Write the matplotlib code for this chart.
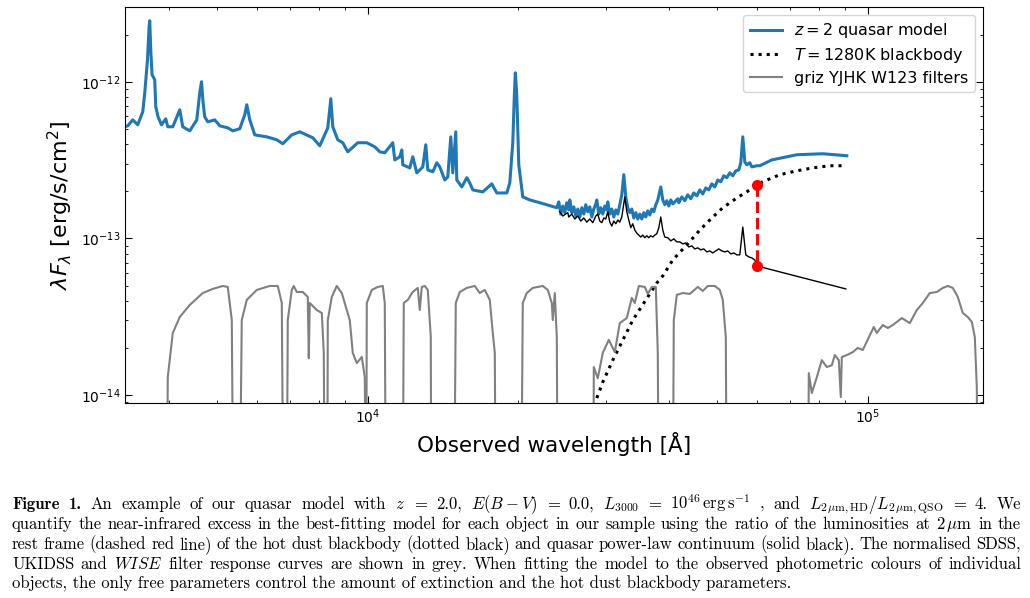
import numpy as np
import matplotlib
matplotlib.use("Agg")
import matplotlib.pyplot as plt

# z=2 quasar model (blue), flux in units of 1e-13 erg/s/cm^2
qso_wave = [3266, 3311, 3388, 3467, 3548, 3581, 3626, 3653, 3664, 3681, 3703, 3749, 3767, 3807, 3867,
            3944, 3981, 4074, 4207, 4265, 4406, 4550, 4613, 4650, 4685, 4720, 4786, 4944, 5058, 5248,
            5371, 5546, 5675, 5728, 5808, 5943, 6281, 6577, 6761, 7047, 7311, 7762, 8017, 8318, 8434,
            8512, 8709, 8912, 9120, 9549, 9955, 10328, 10568, 10814, 11220, 11324, 11588, 11696, 11749,
            12134, 12303, 12532, 12883, 13062, 13183, 13490, 13742, 13932, 14257, 14455, 14655, 14791,
            14996, 15066, 15418, 15777, 15996, 16218, 16982, 17702, 18113, 18967, 19231, 19498, 19640,
            19730, 19860, 20044, 20417, 21086, 22080,
            23878, 24099, 24321, 24546, 24774, 25003, 25235, 25351, 25587, 25823, 26061, 26302, 26546,
            26793, 27040, 27289, 27541, 27797, 28056, 28314, 28575, 28708, 28974, 29241, 29512, 29785,
            30062, 30198, 30479, 30762, 31046, 31332, 31622, 31915, 32212, 32508, 32809, 33112, 33419,
            33730, 34041, 34355, 34671, 34994, 35319, 35645, 35974, 36306, 36644, 36985, 37326, 37670,
            38017, 38547, 38903, 39264, 39628, 39995, 40364, 40737, 41686, 41879, 42463, 43053, 43650,
            44258, 44874, 45500, 46132, 46773, 47424, 48085, 48755, 49432, 50118, 50815, 51523, 52240,
            52966, 53702, 54449, 55208, 55717, 56233, 56754, 57279, 58076, 58617, 60000, 60813, 64272,
            72112, 81282, 90785]
qso_flux = [5.16, 5.23, 5.71, 5.31, 6.43, 8.51, 13.8, 22.5, 24.5, 16.0, 11.1, 10.3, 6.92, 5.97, 5.31,
            5.80, 5.16, 5.16, 6.62, 5.16, 4.86, 5.71, 8.51, 10.0, 7.34, 5.97, 5.55, 5.71, 5.23, 5.08,
            4.86, 5.01, 6.16, 7.13, 5.71, 4.58, 4.45, 4.26, 4.02, 4.58, 4.79, 4.39, 3.90, 5.08, 7.79,
            5.16, 4.26, 4.08, 3.57, 4.08, 4.08, 3.84, 3.57, 3.52, 4.08, 3.17, 3.32, 3.67, 2.95,
            2.82, 3.32, 2.62, 2.86, 3.96, 2.74, 2.66, 3.04, 2.86, 2.36, 2.47, 4.45, 2.62,
            4.79, 2.36, 2.13, 2.44, 2.26, 2.04, 1.98, 2.23, 1.95, 1.95, 2.26, 4.08, 8.26,
            11.4, 8.26, 2.95, 1.84, 1.76, 1.69,
            1.57, 1.71, 1.43, 1.61, 1.46, 1.69, 1.52, 1.76, 1.46, 1.59, 1.39, 1.54, 1.37,
            1.57, 1.43, 1.64, 1.48, 1.59, 1.37, 1.54, 1.66, 1.76, 1.43, 1.57, 1.43, 1.61,
            1.52, 1.71, 1.43, 1.54, 1.37, 1.52, 1.43, 1.64, 1.90, 2.55, 1.84, 1.57, 1.46,
            1.54, 1.35, 1.46, 1.33, 1.43, 1.33, 1.46, 1.37, 1.50, 1.41, 1.54, 1.48, 1.64,
            1.76, 2.13, 1.76, 1.64, 1.74, 1.61, 1.76, 1.66, 1.79, 1.69, 1.84, 1.74, 1.90,
            1.79, 1.95, 1.87, 2.04, 1.92, 2.10, 2.04, 2.23, 2.13, 2.36, 2.30, 2.51, 2.44,
            2.62, 2.51, 2.70, 2.74, 3.04, 4.45, 3.08, 2.95, 3.04, 2.86, 2.91, 2.91, 3.17,
            3.42, 3.47, 3.37]

# quasar power-law continuum + lines without hot dust (solid black)
pl_wave = [24210, 24546, 25118, 25235, 25587, 25942, 26302, 26668, 27040, 27416, 27797, 28183,
           28575, 28839, 29107, 29378, 29648, 29922, 30198, 30479, 30762, 31046, 31332, 31622,
           31915, 32212, 32659, 32962, 33266, 33573, 33884, 34198, 34514, 34834, 35155, 35480,
           35809, 36142, 36476, 36813, 37154, 37498, 37846, 38194, 38547, 38903, 39264, 39809,
           40364, 40926, 41496, 42072, 42656, 43250, 43853, 44464, 45082, 45707, 46344, 46990,
           47645, 48306, 48977, 49659, 50350, 51052, 51760, 52478, 53210, 53951, 54702, 55462,
           56233, 57015, 57810, 58617, 59429, 60000, 90363]
pl_flux = [1.48, 1.39, 1.46, 1.37, 1.43, 1.33, 1.39, 1.29, 1.35, 1.27, 1.33, 1.26,
           1.39, 1.43, 1.29, 1.26, 1.35, 1.33, 1.48, 1.27, 1.20, 1.29, 1.24, 1.31,
           1.27, 1.37, 1.84, 1.48, 1.31, 1.17, 1.24, 1.13, 1.08, 1.05, 1.02, 1.05,
           1.01, 1.04, 1.01, 1.04, 1.02, 1.05, 1.07, 1.17, 1.37, 1.13, 1.02, 1.01,
           0.964, 0.993, 0.950, 0.950, 0.922, 0.936, 0.882, 0.896, 0.857, 0.870, 0.845, 0.857,
           0.820, 0.832, 0.808, 0.832, 0.857, 0.832, 0.820, 0.832, 0.796, 0.808, 0.785, 0.785,
           1.18, 0.785, 0.762, 0.751, 0.729, 0.667, 0.476]

# T=1280K hot dust blackbody (dotted)
bb_wave = [28708, 29512, 30903, 33884, 37846, 38903, 40737, 43452, 46132, 48755, 51285, 54702,
           58076, 60000, 61658, 66681, 72112, 77624, 83946, 90363]
bb_flux = [0.0957, 0.121, 0.167, 0.301, 0.519, 0.576, 0.729, 0.909, 1.13, 1.35, 1.57, 1.81,
           2.04, 2.20, 2.30, 2.55, 2.70, 2.82, 2.91, 2.91]

# 2 micron rest-frame ratio (red dashed)
ratio_wave = [60000, 60000]
ratio_flux = [2.20, 0.667]

# normalised filter curves, units of 1e-14
g_wave = [3945, 3981, 4074, 4207, 4406, 4677, 4898, 5128, 5248, 5346, 5420]
g_flux = [0.01, 1.30, 2.49, 3.15, 3.76, 4.48, 4.76, 4.97, 4.90, 3.01, 0.01]
r_wave = [5495, 5597, 5728, 5998, 6368, 6607, 6730, 6823]
r_flux = [0.01, 3.01, 4.05, 4.69, 4.97, 4.97, 3.87, 0.01]
i_wave = [6855, 6918, 7047, 7112, 7211, 7413, 7585, 7621, 7656, 7907, 8092, 8166, 8241]
i_flux = [0.01, 3.01, 4.69, 4.97, 4.55, 4.55, 4.23, 1.72, 3.87, 3.49, 3.34, 1.86, 0.01]
z_wave = [8280, 8318, 8473, 8669, 8872, 9078, 9204, 9332, 9506, 9728, 9863, 10000]
z_flux = [0.01, 3.01, 4.23, 4.97, 4.48, 3.49, 3.01, 1.86, 1.60, 1.75, 1.30, 0.01]
Y_wave = [9908, 9954, 10187, 10471, 10715, 10814, 10915]
Y_flux = [0.01, 3.87, 4.69, 4.90, 4.97, 3.87, 0.01]
J_wave = [11696, 11803, 12022, 12303, 12589, 12706, 12824, 13002, 13183, 13366, 13428]
J_flux = [0.01, 3.87, 4.05, 4.55, 4.83, 3.49, 4.90, 4.97, 4.69, 2.35, 0.01]
H_wave = [14791, 14996, 15276, 15777, 16368, 16749, 17140, 17539, 17783, 17948, 18113]
H_flux = [0.01, 3.87, 4.55, 4.83, 4.97, 4.48, 4.69, 4.05, 2.49, 1.86, 0.01]
K_wave = [20137, 20417, 20797, 21379, 22387, 22908, 23336, 23442, 23660, 23878, 24099]
K_flux = [0.01, 3.87, 4.48, 4.83, 4.97, 4.69, 3.87, 3.01, 4.48, 2.35, 0.01]
W1_wave = [28183, 28314, 28839, 29512, 30339, 31189, 31915, 32962, 33730, 34198, 34834, 35809,
           36306, 36985, 37670, 38017, 38370]
W1_flux = [0.01, 1.51, 1.28, 1.86, 2.25, 1.88, 2.88, 3.10, 4.17, 3.87, 4.97, 4.90,
           4.42, 4.90, 4.90, 1.86, 0.01]
W2_wave = [40553, 40926, 41496, 42656, 44055, 45707, 46773, 47861, 49432, 50582, 51285, 51998, 52478]
W2_flux = [0.01, 3.01, 4.36, 4.48, 4.42, 4.90, 4.62, 4.97, 4.97, 4.69, 4.05, 2.35, 0.01]
W3_wave = [75510, 76210, 77272, 79071, 80914, 82795, 84727, 85902, 87498, 88306, 88720, 90785,
           93324, 95495, 97723, 102804, 104233, 107151, 109643, 112202, 116955, 121339, 125319,
           128823, 133045, 137409, 141253, 144537, 147909, 151348, 154880, 158481, 161443,
           163682, 165201, 166721]
W3_flux = [0.01, 1.38, 1.03, 1.30, 1.67, 1.51, 1.55, 1.80, 1.67, 0.97, 1.75, 1.80,
           1.88, 2.00, 1.94, 2.72, 2.49, 2.80, 2.68, 2.80, 3.10, 2.88, 3.49,
           3.87, 4.48, 4.55, 4.83, 4.97, 4.83, 4.23, 3.34, 3.15, 2.93,
           2.35, 1.12, 0.01]

filters = [(g_wave, g_flux), (r_wave, r_flux), (i_wave, i_flux), (z_wave, z_flux),
           (Y_wave, Y_flux), (J_wave, J_flux), (H_wave, H_flux), (K_wave, K_flux),
           (W1_wave, W1_flux), (W2_wave, W2_flux), (W3_wave, W3_flux)]

fig = plt.figure(figsize=(10.3, 5.98), dpi=100)
ax = fig.add_axes([0.1214, 0.3261, 0.8330, 0.6622])

ax.plot(qso_wave, np.array(qso_flux) * 1e-13, color="#1f77b4", lw=2.2, label="$z = 2$ quasar model")
ax.plot(pl_wave, np.array(pl_flux) * 1e-13, color="black", lw=1.0)
ax.plot(bb_wave, np.array(bb_flux) * 1e-13, color="black", ls=":", lw=2.2,
        label="$T = 1280$K blackbody")
for k, (w, f) in enumerate(filters):
    ax.plot(w, np.array(f) * 1e-14, color="grey", lw=1.5,
            label="griz YJHK W123 filters" if k == 0 else None)
ax.plot(ratio_wave, np.array(ratio_flux) * 1e-13, color="red", ls="--", lw=2.2,
        marker="o", ms=7, zorder=5)

ax.set_xscale("log")
ax.set_yscale("log")
ax.set_xlim(3270, 1.7e5)
ax.set_ylim(8.9e-15, 3.0e-12)
ax.tick_params(which="both", direction="in", top=True, right=True, labelsize=10)
ax.tick_params(which="major", length=5)
ax.tick_params(which="minor", length=2.5)
ax.set_xlabel("Observed wavelength [Å]", fontsize=15.5)
ax.set_ylabel(r"$\lambda F_\lambda$ [erg/s/cm$^2$]", fontsize=16)
ax.legend(loc="upper right", fontsize=11.5, labelspacing=0.35)

# figure caption, justified line by line
cap_fs = 12
cap_lines = [
    ["**Figure", "**1.", "An", "example", "of", "our", "quasar", "model", "with", "$z$", "=", "2.0,",
     "$E(B-V)$", "=", "0.0,", "$L_{3000}$", "=", r"$10^{46}\,\mathrm{erg\,s^{-1}}$", ",", "and",
     r"$L_{2\,\mu\mathrm{m,HD}}/L_{2\,\mu\mathrm{m,QSO}}$", "=", "4.", "We"],
    "quantify the near-infrared excess in the best-fitting model for each object in our sample using "
    r"the ratio of the luminosities at $2\,\mu\mathrm{m}$ in the",
    "rest frame (dashed red line) of the hot dust blackbody (dotted black) and quasar power-law "
    "continuum (solid black). The normalised SDSS,",
    "UKIDSS and //WISE filter response curves are shown in grey. When fitting the model to the "
    "observed photometric colours of individual",
]
last_line = ("objects, the only free parameters control the amount of extinction and the hot dust "
             "blackbody parameters.")
baselines = [509, 529, 549, 569, 589]

renderer = fig.canvas.get_renderer()
x_left, x_right = 12 / 1030, 1021 / 1030
for line, yb in zip(cap_lines, baselines):
    words = line if isinstance(line, list) else line.split(" ")
    # rejoin math that got split on spaces
    merged = []
    for w in words:
        if merged and merged[-1].count("$") % 2 == 1:
            merged[-1] += " " + w
        else:
            merged.append(w)
    arts = []
    for w in merged:
        fam = "cmr10"
        if w.startswith("**"):
            fam, w = "cmb10", w[2:]
        elif w.startswith("//"):
            w = r"$\mathit{" + w[2:] + "}$"
        arts.append(fig.text(x_left, 1 - yb / 598, w, fontsize=cap_fs, family=fam,
                             math_fontfamily="cm", va="baseline"))
    widths = [a.get_window_extent(renderer).width / fig.bbox.width for a in arts]
    gap = (x_right - x_left - sum(widths)) / (len(arts) - 1)
    x = x_left
    for a, wd in zip(arts, widths):
        a.set_x(x)
        x += wd + gap
fig.text(x_left, 1 - baselines[-1] / 598, last_line, fontsize=cap_fs, family="cmr10",
         math_fontfamily="cm", va="baseline")

fig.savefig("out.png", dpi=100)
